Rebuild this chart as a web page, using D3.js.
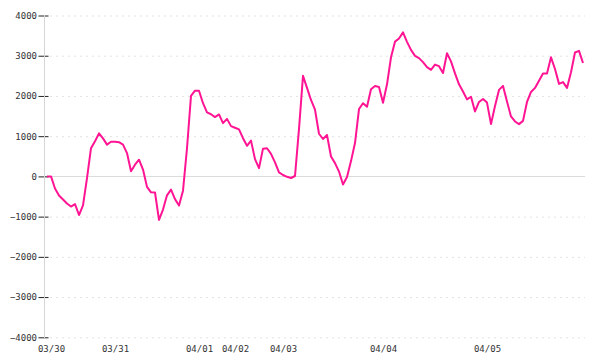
<!DOCTYPE html>
<html>
<head>
<meta charset="utf-8">
<script src="https://cdn.jsdelivr.net/npm/d3@7"></script>
<style>
  html, body { margin: 0; padding: 0; background: #fff; }
  svg text { font-family: "DejaVu Sans Mono", "Liberation Mono", monospace; font-size: 9px; fill: #333; }
</style>
</head>
<body>
<svg id="chart" width="600" height="360"></svg>
<script>
// return series, one value per sample (index 0 is the base point before 03/30)
var values = [
  0, 0, -300, -475, -575, -675, -750, -690, -960, -720,
  -45, 700, 875, 1070, 945, 790, 860, 860, 850, 790,
  580, 130, 290, 415, 170, -260, -395, -400, -1080, -825,
  -470, -330, -565, -725, -355, 700, 2000, 2130, 2130, 1820,
  1590, 1545, 1475, 1540, 1325, 1430, 1250, 1210, 1170, 950,
  760, 890, 430, 205, 690, 700, 560, 350, 100, 35,
  -10, -40, 10, 1180, 2500, 2200, 1900, 1660, 1060, 930,
  1030, 495, 330, 120, -200, -15, 380, 830, 1675, 1820,
  1730, 2165, 2245, 2225, 1830, 2290, 2960, 3350, 3430, 3580,
  3345, 3145, 2995, 2940, 2840, 2715, 2650, 2780, 2740, 2570,
  3060, 2860, 2560, 2290, 2110, 1915, 1980, 1615, 1850, 1925,
  1835, 1300, 1750, 2150, 2250, 1860, 1490, 1365, 1300, 1380,
  1850, 2100, 2200, 2380, 2560, 2560, 2960, 2670, 2300, 2345,
  2200, 2590, 3080, 3120, 2820
]

// first sample of each day, and its label
var dayIndex = [1, 17, 38, 47, 59, 84, 110]
var dayLabels = ['03/30', '03/31', '04/01', '04/02', '04/03', '04/04', '04/05']

var yTicks = [-4000, -3000, -2000, -1000, 0, 1000, 2000, 3000, 4000]

var svg = d3.select('#chart')

var x = d3.scaleLinear().domain([0, values.length - 1]).range([47, 583])
var y = d3.scaleLinear().domain([-4000, 4000]).range([337.3, 15.5])

// dashed grid lines (zero gets a solid one below)
svg.append('g')
  .attr('transform', 'translate(50,0)')
  .call(d3.axisRight(y).tickValues(yTicks.filter(function(d) { return d !== 0 })).tickSize(535).tickFormat(''))
  .call(function(g) { g.select('.domain').remove() })
  .selectAll('line')
    .attr('stroke', '#e3e3e3')
    .attr('stroke-dasharray', '2,4')

svg.append('line')
  .attr('x1', 45).attr('x2', 585)
  .attr('y1', Math.round(y(0)) + 0.5).attr('y2', Math.round(y(0)) + 0.5)
  .attr('stroke', '#dcdcdc')

// y axis: short black ticks, light grey axis line on top
svg.append('g')
  .attr('transform', 'translate(48.5,0)')
  .call(d3.axisLeft(y).tickValues(yTicks).tickSize(10).tickPadding(1.5).tickFormat(d3.format('d')))
  .call(function(g) { g.select('.domain').remove() })
  .call(function(g) { g.selectAll('line').attr('stroke', '#222') })
  .call(function(g) { g.selectAll('text').attr('font-family', null).attr('font-size', null) })

svg.append('line')
  .attr('x1', 44.5).attr('x2', 44.5)
  .attr('y1', 15).attr('y2', 338)
  .attr('stroke', '#d6d6d6')

// x axis labels only, at the start of each day
svg.append('g')
  .attr('transform', 'translate(0,337)')
  .call(d3.axisBottom(x).tickValues(dayIndex).tickSize(0).tickPadding(8.6)
    .tickFormat(function(d, i) { return dayLabels[i] }))
  .call(function(g) { g.select('.domain').remove() })
  .call(function(g) { g.selectAll('text').attr('font-family', null).attr('font-size', null) })

var line = d3.line()
  .x(function(d, i) { return x(i) })
  .y(function(d) { return y(d) })

svg.append('path')
  .datum(values)
  .attr('d', line)
  .attr('fill', 'none')
  .attr('stroke', '#ff1493')
  .attr('stroke-width', 2)
  .attr('stroke-linejoin', 'round')
</script>
</body>
</html>
